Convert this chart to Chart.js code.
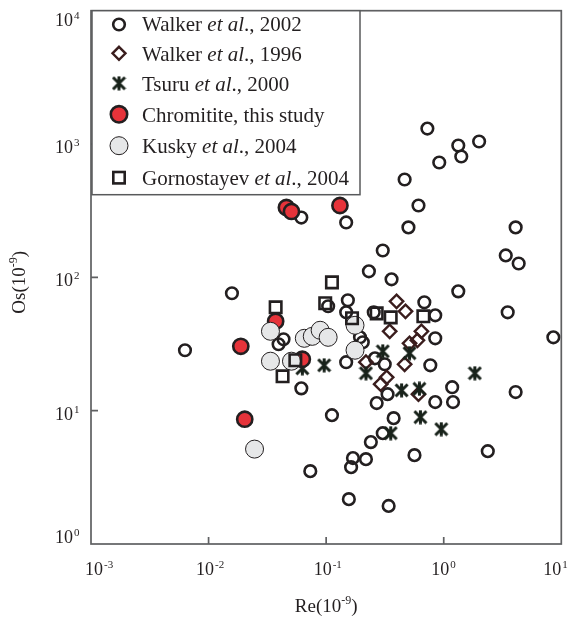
<!DOCTYPE html>
<html>
<head>
<meta charset="utf-8">
<script src="https://cdn.jsdelivr.net/npm/chart.js@4.4.0/dist/chart.umd.min.js"></script>
<style>
body { margin: 0; background: #ffffff; }
canvas { display: block; }
</style>
</head>
<body>
<canvas id="osRe" width="572" height="621"></canvas>
<script>

//Walker et al., 2002 (open circles)
var walker02Re = [0.0063, 0.0158, 0.0615, 0.148, 0.303, 0.231, 0.36, 0.153, 0.148, 0.104, 0.194, 0.205, 0.0434, 0.0394,
    0.726, 1.33, 1.41, 2.0, 0.916, 0.465, 0.61, 0.501, 4.09, 3.37, 4.34, 1.33, 0.684, 0.847, 3.5, 0.847, 8.56,
    0.148, 0.26, 0.315, 0.769, 0.0615, 0.333, 1.18, 1.2, 0.847, 0.269, 0.112, 0.375, 4.09, 0.303, 0.564, 2.37,
    0.0733, 0.169, 0.163, 0.218, 0.24, 0.156, 0.34, 0.254];
var walker02Os = [28.4, 76, 281, 258, 159, 111, 96.6, 67.3, 54.7, 60.7, 35.5, 32.6, 34.3, 31.5,
    1306, 975, 806, 1045, 727, 542, 346, 237, 237, 146, 127, 78.5, 65, 51.9, 54.7, 34.9, 35.5,
    23.1, 24.7, 22.3, 21.9, 14.7, 13.3, 15.0, 11.6, 11.6, 11.4, 9.25, 8.79, 13.8, 6.78, 4.64, 4.97,
    3.52, 4.41, 3.77, 4.33, 5.81, 2.17, 1.93, 54.7];

//Walker et al., 1996 (diamonds)
var walker96Re = [0.397, 0.473, 0.347, 0.646, 0.512, 0.597, 0.465, 0.218, 0.327, 0.291, 0.61];
var walker96Os = [66.1, 55.6, 39.4, 39.4, 32.0, 33.7, 22.3, 23.1, 17.8, 15.8, 13.3];

//Tsuru et al., 2000 (asterisks)
var tsuruRe = [0.303, 0.512, 0.0962, 0.0627, 1.84, 0.218, 0.438, 0.621, 0.633, 0.953, 0.354];
var tsuruOs = [27.9, 27.0, 21.9, 20.8, 19.1, 19.1, 14.2, 14.6, 8.94, 7.27, 6.78];

//Chromitite, this study (red)
var chromRe = [0.0459, 0.0507, 0.131, 0.0372, 0.0188, 0.0203, 0.0627];
var chromOs = [334, 312, 346, 46.8, 30.4, 8.63, 24.3];

//Kusky et al., 2004 (grey)
var kuskyRe = [0.0336, 0.0336, 0.0507, 0.0652, 0.0762, 0.0889, 0.104, 0.176, 0.176, 0.0246];
var kuskyOs = [39.4, 23.5, 23.5, 34.9, 36.1, 40.1, 35.5, 43.7, 28.4, 5.15];

//Gornostayev et al., 2004 (squares)
var gornRe = [0.0372, 0.112, 0.0982, 0.166, 0.269, 0.354, 0.671, 0.0547, 0.0426];
var gornOs = [59.6, 91.7, 63.9, 49.3, 53.7, 50.1, 51.0, 23.9, 18.1];

//axis decades (tick labels are 10^k)
var xTickExp = [-3, -2, -1, 0, 1];
var yTickExp = [0, 1, 2, 3, 4];

var serif = '"Liberation Serif", "Times New Roman", serif';
var ink = '#231f20';

function pts(re, os) {
    return re.map(function (v, i) { return {x: v, y: os[i]}; });
}

//asterisk marker, six arms
var star = document.createElement('canvas');
star.width = 15;
star.height = 15;
var sc = star.getContext('2d');
sc.strokeStyle = '#18221a';
sc.lineWidth = 3;
sc.beginPath();
sc.moveTo(7.5, 0.5); sc.lineTo(7.5, 14.5);
sc.moveTo(1.5, 1.5); sc.lineTo(13.5, 13.5);
sc.moveTo(13.5, 1.5); sc.lineTo(1.5, 13.5);
sc.stroke();

var inData = {
    datasets: [
        {label: 'Gornostayev et al., 2004', data: pts(gornRe, gornOs), pointStyle: 'rect', pointRadius: 8.1,
            borderWidth: 2.6, borderColor: ink, backgroundColor: 'rgba(0,0,0,0)', order: 1},
        {label: 'Kusky et al., 2004', data: pts(kuskyRe, kuskyOs), pointStyle: 'circle', pointRadius: 9,
            borderWidth: 1, borderColor: ink, backgroundColor: '#e6e7e8', order: 2},
        {label: 'Chromitite, this study', data: pts(chromRe, chromOs), pointStyle: 'circle', pointRadius: 7.6,
            borderWidth: 2.6, borderColor: ink, backgroundColor: '#e6333a', order: 3},
        {label: 'Tsuru et al., 2000', data: pts(tsuruRe, tsuruOs), pointStyle: star, pointRadius: 7,
            borderWidth: 0, order: 4},
        {label: 'Walker et al., 1996', data: pts(walker96Re, walker96Os), pointStyle: 'rectRot', pointRadius: 6.7,
            borderWidth: 2.4, borderColor: '#3a1d1d', backgroundColor: 'rgba(0,0,0,0)', order: 5},
        {label: 'Walker et al., 2002', data: pts(walker02Re, walker02Os), pointStyle: 'circle', pointRadius: 5.8,
            borderWidth: 2.6, borderColor: ink, backgroundColor: 'rgba(0,0,0,0)', order: 6}
    ]
};

//legend rows: plain name, italic part, tail
var legendRows = [
    ['Walker ', 'et al', '., 2002', 'open'],
    ['Walker ', 'et al', '., 1996', 'diamond'],
    ['Tsuru ', 'et al', '., 2000', 'star'],
    ['Chromitite, this study', '', '', 'red'],
    ['Kusky ', 'et al', '., 2004', 'grey'],
    ['Gornostayev ', 'et al', '., 2004', 'square']
];
var markY = [24.5, 53.3, 83.3, 114.3, 145.7, 177.7];
var textY = [30.5, 60.5, 90.5, 121.5, 152.5, 184.5];

function drawMark(ctx, kind, x, y) {
    ctx.save();
    ctx.strokeStyle = ink;
    if (kind === 'open') {
        ctx.lineWidth = 2.6;
        ctx.beginPath(); ctx.arc(x, y, 5.8, 0, Math.PI * 2); ctx.stroke();
    } else if (kind === 'red' || kind === 'grey') {
        ctx.lineWidth = kind === 'red' ? 2.6 : 1;
        ctx.fillStyle = kind === 'red' ? '#e6333a' : '#e6e7e8';
        ctx.beginPath(); ctx.arc(x, y, kind === 'red' ? 8.2 : 9, 0, Math.PI * 2); ctx.fill(); ctx.stroke();
    } else if (kind === 'diamond') {
        ctx.lineWidth = 2.4;
        ctx.strokeStyle = '#3a1d1d';
        ctx.beginPath();
        ctx.moveTo(x, y - 6.5); ctx.lineTo(x + 6.5, y); ctx.lineTo(x, y + 6.5); ctx.lineTo(x - 6.5, y);
        ctx.closePath(); ctx.stroke();
    } else if (kind === 'square') {
        ctx.lineWidth = 2.6;
        ctx.strokeRect(x - 5.7, y - 5.7, 11.4, 11.4);
    } else if (kind === 'star') {
        ctx.drawImage(star, x - 7.5, y - 7.5);
    }
    ctx.restore();
}

//"10" with a raised exponent, left edge at x, baseline at y
function powLabel(ctx, x, y, exp) {
    ctx.font = '18px ' + serif;
    ctx.fillText('10', x, y);
    var w = ctx.measureText('10').width;
    ctx.font = '11px ' + serif;
    ctx.fillText(String(exp), x + w + 1, y - 7);
}

var drawExtras = {
    id: 'drawExtras',
    afterDraw: function (chart) {
        var ctx = chart.ctx;
        var a = chart.chartArea;
        var sx = chart.scales.x;
        var sy = chart.scales.y;
        ctx.save();

        //frame
        ctx.strokeStyle = '#5f6062';
        ctx.lineWidth = 1.7;
        ctx.strokeRect(a.left, a.top, a.right - a.left, a.bottom - a.top);

        //inward ticks
        ctx.beginPath();
        xTickExp.forEach(function (k) {
            var px = sx.getPixelForValue(Math.pow(10, k));
            if (k > xTickExp[0] && k < xTickExp[xTickExp.length - 1]) {
                ctx.moveTo(px, a.bottom); ctx.lineTo(px, a.bottom - 7);
            }
        });
        yTickExp.forEach(function (k) {
            var py = sy.getPixelForValue(Math.pow(10, k));
            if (k > yTickExp[0] && k < yTickExp[yTickExp.length - 1]) {
                ctx.moveTo(a.left, py); ctx.lineTo(a.left + 7, py);
            }
        });
        ctx.stroke();

        //tick labels
        ctx.fillStyle = ink;
        ctx.textAlign = 'left';
        ctx.textBaseline = 'alphabetic';
        xTickExp.forEach(function (k) {
            var px = sx.getPixelForValue(Math.pow(10, k));
            var left = Math.min(Math.max(px - 12.5, a.left - 6), a.right - 18);
            powLabel(ctx, left, a.bottom + 31, k);
        });
        yTickExp.forEach(function (k) {
            var py = sy.getPixelForValue(Math.pow(10, k));
            var base = py + 9;
            if (k === yTickExp[yTickExp.length - 1]) base = py + 15;
            if (k === yTickExp[0]) base = py - 1;
            powLabel(ctx, a.left - 36, base, k);
        });

        //axis titles
        ctx.font = '19px ' + serif;
        var t1 = ctx.measureText('Re(10').width;
        ctx.font = '12px ' + serif;
        var t2 = ctx.measureText('-9').width;
        ctx.font = '19px ' + serif;
        var t3 = ctx.measureText(')').width;
        var tx = (a.left + a.right) / 2 - (t1 + t2 + t3) / 2;
        ctx.fillText('Re(10', tx, 612);
        ctx.fillText(')', tx + t1 + t2, 612);
        ctx.font = '12px ' + serif;
        ctx.fillText('-9', tx + t1, 604);

        ctx.save();
        ctx.translate(25, (a.top + a.bottom) / 2 + 5);
        ctx.rotate(-Math.PI / 2);
        ctx.font = '19px ' + serif;
        var o1 = ctx.measureText('Os(10').width;
        var o3 = ctx.measureText(')').width;
        var ox = -(o1 + t2 + o3) / 2;
        ctx.fillText('Os(10', ox, 0);
        ctx.fillText(')', ox + o1 + t2, 0);
        ctx.font = '12px ' + serif;
        ctx.fillText('-9', ox + o1, -8);
        ctx.restore();

        //legend box
        var lx = a.left + 1, ly = a.top, lw = 268, lh = 184;
        ctx.fillStyle = '#ffffff';
        ctx.fillRect(lx, ly, lw, lh);
        ctx.strokeStyle = '#58595b';
        ctx.lineWidth = 1.5;
        ctx.strokeRect(lx, ly, lw, lh);

        legendRows.forEach(function (row, i) {
            drawMark(ctx, row[3], lx + 27, markY[i]);
            var x = lx + 50;
            ctx.fillStyle = ink;
            ctx.font = '21px ' + serif;
            ctx.fillText(row[0], x, textY[i]);
            x += ctx.measureText(row[0]).width;
            if (row[1]) {
                ctx.font = 'italic 21px ' + serif;
                ctx.fillText(row[1], x, textY[i]);
                x += ctx.measureText(row[1]).width;
                ctx.font = '21px ' + serif;
                ctx.fillText(row[2], x, textY[i]);
            }
        });

        ctx.restore();
    }
};

var ctx = document.getElementById('osRe');
var osChart = new Chart(ctx, {
    type: 'scatter',
    data: inData,
    options: {
        responsive: false,
        animation: false,
        layout: {padding: {left: 91, top: 10, right: 7, bottom: 77}},
        plugins: {legend: {display: false}, tooltip: {enabled: false}},
        scales: {
            x: {type: 'logarithmic', min: 0.001, max: 10, display: false},
            y: {type: 'logarithmic', min: 1, max: 10000, display: false}
        }
    },
    plugins: [drawExtras]
});

</script>
</body>
</html>
